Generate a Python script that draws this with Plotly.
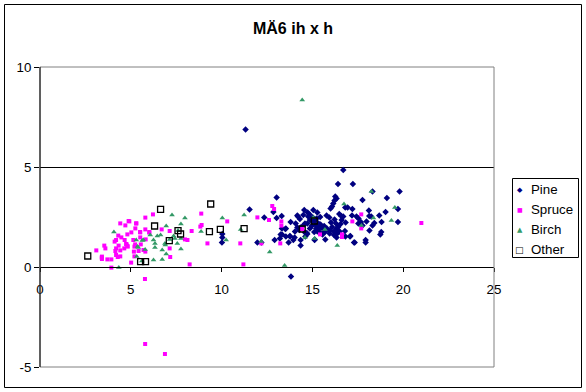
import plotly.graph_objects as go

title_text = "MÄ6 ih x h"
series_names = ["Pine", "Spruce", "Birch", "Other"]
x_ticks = [0, 5, 10, 15, 20, 25]
y_ticks = [-5, 0, 5, 10]

pine_pts = [
    (11.32, 6.88), (16.70, 4.85), (16.41, 4.15), (17.23, 4.15), (19.80, 3.77), (18.31, 3.77), (19.10, 3.45), (17.76, 3.35),
    (16.26, 3.52), (16.33, 3.42), (16.22, 3.32), (16.15, 3.18), (16.08, 3.02), (16.00, 2.93),
    (13.03, 3.47), (11.54, 2.87), (12.85, 2.75), (13.31, 2.55), (12.35, 2.48), (13.03, 2.45),
    (14.55, 2.85), (14.74, 2.73), (14.85, 2.63), (15.05, 2.85), (15.27, 2.73), (14.77, 2.52), (15.03, 2.48), (14.20, 2.53),
    (14.31, 2.40), (14.59, 2.17), (14.72, 2.17), (13.80, 2.25), (14.08, 2.18), (14.17, 1.97), (13.54, 1.92), (14.28, 1.85),
    (14.04, 1.77), (14.59, 1.72), (14.72, 1.65), (14.61, 1.52), (13.76, 1.55), (14.02, 1.47), (14.35, 1.35), (13.25, 1.62),
    (13.21, 1.42), (12.92, 1.35), (13.69, 1.23), (14.35, 1.07),
    (15.10, 1.75), (15.27, 1.77), (15.12, 1.35), (15.34, 2.18), (15.31, 2.02), (15.18, 2.10), (15.45, 2.13), (15.43, 2.50),
    (15.78, 2.57), (15.93, 2.48), (16.02, 2.23), (16.22, 2.38), (16.30, 2.18), (16.09, 2.00), (16.42, 2.00), (16.33, 1.92),
    (16.55, 2.15), (16.48, 2.65), (16.59, 2.55), (16.81, 2.98), (16.94, 2.98), (17.20, 2.90), (16.83, 2.23), (17.18, 2.58),
    (16.79, 1.80), (17.09, 1.55), (17.29, 1.22), (17.54, 2.42), (17.67, 2.25), (17.76, 2.08), (17.93, 1.35), (17.93, 1.22),
    (18.11, 2.82), (18.13, 2.55), (18.24, 2.52), (18.31, 2.08), (18.41, 2.20), (18.81, 2.25), (18.79, 1.75), (18.74, 1.62),
    (19.03, 2.75), (19.71, 2.90), (19.71, 2.25),
    (15.71, 1.38), (16.19, 1.77), (16.19, 1.60), (15.97, 1.82), (16.33, 1.48), (10.04, 1.65), (10.04, 1.48), (10.02, 1.22),
    (11.97, 1.22), (12.19, 1.23), (15.21, 1.92), (15.31, 1.88), (15.38, 1.75), (15.53, 1.95), (15.65, 2.05), (15.69, 1.77),
    (13.82, -0.48),
    (14.86, 2.35), (15.14, 2.32), (15.01, 2.27), (15.23, 2.42), (14.50, 2.60), (14.44, 2.02), (14.86, 1.93), (14.96, 2.05),
    (13.54, 1.52), (13.32, 1.92), (13.95, 1.35), (16.50, 1.77), (16.37, 1.68), (16.61, 2.35), (16.70, 2.52), (17.43, 2.52),
    (17.53, 2.18), (17.98, 2.27), (18.68, 2.58), (15.80, 1.93), (15.95, 1.68), (15.56, 1.62),
    (13.51, 1.90), (13.77, 1.53), (14.69, 1.70), (15.13, 1.37), (15.72, 1.77), (16.38, 1.73), (16.82, 1.53), (17.07, 1.53),
    (17.33, 1.23), (18.14, 1.83), (13.33, 1.63), (14.36, 1.97), (14.17, 2.57),
]

spruce_pts = [
    (4.42, 2.18), (4.88, 2.30), (4.70, 2.08), (4.81, 1.63), (4.31, 1.57), (4.48, 1.48), (4.19, 1.35), (4.66, 1.35),
    (4.11, 1.27), (4.33, 1.07), (4.74, 1.15), (4.81, 1.05), (4.64, 0.93), (4.19, 0.93), (4.42, 0.83), (4.15, 0.80),
    (3.54, 1.07), (3.60, 0.93), (3.10, 0.83), (4.19, 0.60), (4.42, 0.53), (4.28, 0.50), (3.40, 0.47), (3.71, 0.38),
    (3.93, 0.38), (3.93, -0.03),
    (4.92, 2.28), (5.31, 2.18), (5.80, 2.47), (6.22, 2.63), (5.25, 1.93), (5.52, 1.73), (5.80, 1.88), (6.02, 1.72),
    (5.03, 1.73), (5.52, 1.48), (5.82, 1.38), (5.14, 1.35), (4.77, 1.13), (5.24, 1.13), (5.55, 1.13), (5.20, 1.02),
    (4.83, 1.02), (5.17, 0.77), (5.43, 0.80), (5.70, 0.85), (5.80, 0.77), (5.20, 0.53), (5.02, 0.22), (6.70, 1.88),
    (7.14, 1.80), (7.14, 0.93), (7.17, 0.50), (7.98, 1.38), (8.12, 1.35), (8.35, 1.80), (8.88, 2.67), (8.90, 2.10),
    (8.83, 2.02), (9.22, 1.18), (8.24, 0.13),
    (5.78, -0.60), (5.79, -3.85), (6.88, -4.35),
    (10.31, 2.28), (11.03, 1.18), (11.20, 0.13), (11.97, 2.48), (12.19, 1.18), (12.61, 2.35), (12.79, 3.05), (12.89, 2.90),
    (13.29, 2.28), (13.29, 2.07), (13.23, 1.18), (14.44, 1.90), (15.42, 1.63), (16.63, 1.63), (16.63, 1.50), (17.20, 2.28),
    (17.69, 2.63), (17.69, 1.93), (21.00, 2.20),
    (3.41, 0.52), (3.41, 0.40), (6.02, 1.75), (5.51, 1.75), (5.29, 2.18),
]

birch_pts = [
    (4.07, 1.75), (4.34, -0.03), (7.27, 2.60), (7.98, 2.45), (6.95, 2.05), (7.76, 2.15), (6.64, 1.60), (6.46, 1.55),
    (6.07, 1.60), (6.25, 1.35), (6.33, 1.18), (6.33, 0.98), (5.63, 1.32), (5.30, 1.35), (5.37, 1.02), (5.79, 0.88),
    (5.33, 0.52), (6.25, 0.35), (6.73, 0.85), (6.73, 0.38), (6.95, 0.65), (6.88, 1.18), (7.14, 1.38), (7.36, 1.55),
    (7.56, 1.18), (7.76, 1.43), (7.76, 0.90), (5.61, 0.30), (8.87, 1.77), (10.04, 2.45), (10.25, 1.35), (7.60, 1.82),
    (7.43, 1.43), (6.90, 1.10), (5.69, 1.35), (5.41, 0.98),
    (14.44, 8.35), (11.24, 2.60), (11.05, 1.88), (12.18, 1.28), (12.65, 0.75), (13.47, 0.07), (14.59, 1.48), (15.05, 2.48),
    (15.69, 1.88), (16.37, 1.07), (16.74, 3.15), (18.25, 3.77), (18.36, 2.45), (17.70, 2.07), (19.54, 2.97), (19.35, 2.32),
    (15.12, 1.42),
]

other_pts = [
    (2.63, 0.55), (6.64, 2.88), (6.31, 2.05), (9.40, 3.15), (7.12, 1.32), (7.74, 1.65), (7.60, 1.82), (5.54, 0.27),
    (5.81, 0.27), (9.33, 1.77), (9.93, 1.88), (11.24, 1.92), (14.44, 1.90), (15.10, 2.30),
]

FONT = "Liberation Sans, Arial, sans-serif"
colors = ["#000080", "#FF00FF", "#339966", "#000000"]

fig = go.Figure()
specs = [
    (pine_pts, dict(symbol="diamond", size=5, color=colors[0])),
    (spruce_pts, dict(symbol="square", size=4, color=colors[1])),
    (birch_pts, dict(symbol="triangle-up", size=5, color=colors[2])),
    (other_pts, dict(symbol="square-open", size=6, color=colors[3], line=dict(width=1.3, color=colors[3]))),
]
for name, (pts, mk) in zip(series_names, specs):
    xs = [p[0] for p in pts]
    ys = [p[1] for p in pts]
    fig.add_trace(go.Scatter(x=xs, y=ys, mode="markers", name=name, marker=mk, showlegend=False,
                             hoverinfo="skip"))

W, H = 586, 392
L, R, T, B = 40, 92, 67, 25
pw, ph = W - L - R, H - T - B

def px_x(p):
    return (p - L) / pw

def px_y(p):
    return (H - B - p) / ph

shapes = [
    # plot area border (gray)
    dict(type="rect", xref="paper", yref="paper", x0=0, x1=1, y0=0, y1=1,
         line=dict(color="#808080", width=1), layer="above"),
    # y axis line
    dict(type="line", xref="paper", yref="paper", x0=0, x1=0, y0=0, y1=1,
         line=dict(color="#000000", width=1), layer="above"),
    # chart outer border
    dict(type="rect", xref="paper", yref="paper", x0=px_x(4.5), x1=px_x(581.5), y0=px_y(387.5), y1=px_y(4.5),
         line=dict(color="#000000", width=1)),
    # legend box
    dict(type="rect", xref="paper", yref="paper", x0=px_x(512.5), x1=px_x(578.5), y0=px_y(257.5), y1=px_y(178.5),
         line=dict(color="#000000", width=1), fillcolor="white"),
]

glyphs = ["◆", "■", "▲", "□"]
glyph_sizes = [7, 6, 7, 9]
annotations = []
for i, name in enumerate(series_names):
    yrow = 189.5 + i * 20
    annotations.append(dict(xref="paper", yref="paper", x=px_x(529), y=px_y(yrow), text=name,
                            showarrow=False, xanchor="left", yanchor="middle",
                            font=dict(family=FONT, size=13.3, color="black")))
    annotations.append(dict(xref="paper", yref="paper", x=px_x(519.5), y=px_y(yrow), text=glyphs[i],
                            showarrow=False, xanchor="center", yanchor="middle",
                            font=dict(family="DejaVu Sans", size=glyph_sizes[i], color=colors[i])))

fig.update_layout(
    width=W, height=H,
    margin=dict(l=L, r=R, t=T, b=B),
    paper_bgcolor="white", plot_bgcolor="white",
    font=dict(family=FONT, size=13.3, color="black"),
    title=dict(text="<b>" + title_text + "</b>", x=0.5, xref="container", xanchor="center",
               y=1 - 28 / H, yref="container", yanchor="middle",
               font=dict(family=FONT, size=16, color="black")),
    xaxis=dict(range=[0, 25], tickvals=x_ticks, ticktext=[str(v) for v in x_ticks],
               anchor="free", position=(0 - (-5)) / 15,
               showline=True, linecolor="black", linewidth=1,
               ticks="outside", ticklen=4, tickcolor="black", tickwidth=1,
               showgrid=False, zeroline=False, ticklabelstandoff=6,
               tickfont=dict(family=FONT, size=13.3, color="black")),
    yaxis=dict(range=[-5, 10], tickvals=y_ticks, ticktext=[str(v) for v in y_ticks],
               showline=False, ticks="outside", ticklen=5, tickcolor="black", tickwidth=1,
               showgrid=True, gridcolor="black", gridwidth=1, zeroline=False,
               tickfont=dict(family=FONT, size=13.3, color="black")),
    shapes=shapes,
    annotations=annotations,
    showlegend=False,
)

fig.write_html("out.html", config={"displayModeBar": False, "staticPlot": True},
               post_script="document.body.style.margin='0';document.body.style.overflow='hidden';")
